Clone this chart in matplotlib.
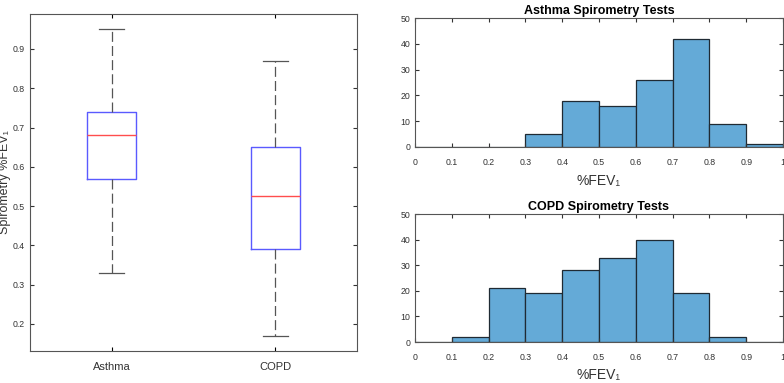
import matplotlib
matplotlib.use("Agg")
import matplotlib.pyplot as plt
import numpy as np

plt.rcParams['font.family'] = ['Liberation Sans', 'DejaVu Sans']

groups = ["Asthma", "COPD"]
# whisker low, Q1, median, Q3, whisker high
asthma_stats = [0.33, 0.57, 0.68, 0.74, 0.95]
copd_stats = [0.17, 0.39, 0.525, 0.65, 0.87]

bin_edges = [0.0, 0.1, 0.2, 0.3, 0.4, 0.5, 0.6, 0.7, 0.8, 0.9, 1.0]
asthma_counts = [0, 0, 0, 5, 18, 16, 26, 42, 9, 1]
copd_counts = [0, 2, 21, 19, 28, 33, 40, 19, 2, 0]

W, H = 784, 383
fig = plt.figure(figsize=(W/100, H/100), dpi=100)

def ax_px(x0, y0, x1, y1):
    return fig.add_axes([x0/W, 1 - y1/H, (x1-x0)/W, (y1-y0)/H])

axc = "#555555"
tick_fs = 6.3

# Box plot
ax = ax_px(30, 14, 357, 351)
stats = []
for name, s in zip(groups, [asthma_stats, copd_stats]):
    stats.append(dict(label=name, whislo=s[0], q1=s[1], med=s[2], q3=s[3], whishi=s[4], fliers=[]))
ax.bxp(stats, positions=[1, 2], widths=0.3, showfliers=False,
       boxprops=dict(color="#5a5aff", linewidth=1.0),
       medianprops=dict(color="#ff4d4d", linewidth=1.0),
       whiskerprops=dict(color="#555555", linewidth=0.9, linestyle=(0, (8, 3.3))),
       capprops=dict(color="#555555", linewidth=0.9),
       capwidths=0.15)
ax.set_xlim(0.5, 2.5)
ax.set_ylim(0.131, 0.989)
ax.set_yticks([0.2, 0.3, 0.4, 0.5, 0.6, 0.7, 0.8, 0.9])
ax.set_yticklabels(["0.2", "0.3", "0.4", "0.5", "0.6", "0.7", "0.8", "0.9"])
ax.set_xticks([1, 2])
ax.set_xticklabels(groups, fontsize=8, color="#333333")
ax.set_ylabel("Spirometry %FEV\u2081", fontsize=9, color="#333333", va='center')
ax.yaxis.set_label_coords(-0.076, 0.5)
ax.tick_params(axis='y', labelsize=tick_fs, colors="#333333", direction='in', length=3, right=True, pad=4)
ax.tick_params(axis='x', direction='in', length=3, top=True, pad=8)
for sp in ax.spines.values():
    sp.set_color(axc)
    sp.set_linewidth(0.8)

def hist_ax(box, counts, title, lp):
    a = ax_px(*box)
    a.hist(bin_edges[:-1], bins=bin_edges, weights=counts,
           color="#64aad7", edgecolor="#1f2a33", linewidth=0.9)
    a.set_xlim(0, 1)
    a.set_ylim(0, 50)
    a.set_xticks(bin_edges)
    a.set_xticklabels(["0", "0.1", "0.2", "0.3", "0.4", "0.5", "0.6", "0.7", "0.8", "0.9", "1"])
    a.set_yticks([0, 10, 20, 30, 40, 50])
    a.tick_params(labelsize=tick_fs, colors="#333333", direction='in', length=3, top=True, right=True)
    a.tick_params(axis='x', pad=8)
    a.set_xlabel("%FEV\u2081", fontsize=10, color="#333333", labelpad=lp)
    a.set_title(title, fontsize=9, fontweight='bold', pad=3)
    for sp in a.spines.values():
        sp.set_color(axc)
        sp.set_linewidth(0.8)
    return a

hist_ax((415, 18, 783, 147), asthma_counts, "Asthma Spirometry Tests", 5)
hist_ax((415, 214, 783, 342), copd_counts, "COPD Spirometry Tests", 4)

fig.savefig("out.png", dpi=100)
